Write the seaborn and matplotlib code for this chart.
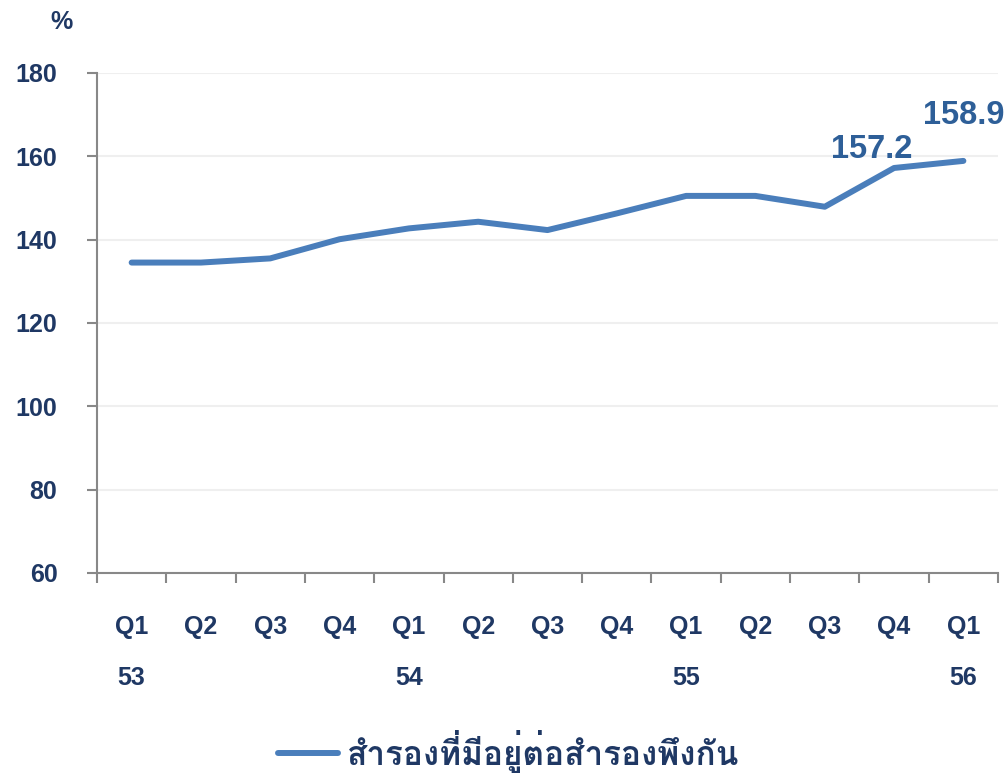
import matplotlib
matplotlib.use("Agg")
import matplotlib.pyplot as plt
import seaborn as sns
import pandas as pd
from matplotlib import font_manager as fm
from matplotlib.ft2font import FT2Font

# data
quarters = ["Q1", "Q2", "Q3", "Q4", "Q1", "Q2", "Q3", "Q4", "Q1", "Q2", "Q3", "Q4", "Q1"]
years = ["53", "", "", "", "54", "", "", "", "55", "", "", "", "56"]
ratio = [134.5, 134.5, 135.5, 140.1, 142.7, 144.3, 142.3, 146.3, 150.5, 150.5, 147.9, 157.2, 158.9]
series_name = "สำรองที่มีอยู่ต่อสำรองพึงกัน"
labelled = {11: "157.2", 12: "158.9"}

navy = "#1F3864"
blue = "#4A7EBB"


def find_thai_font():
    # pick an installed family that actually has Thai glyphs
    found = []
    for f in fm.fontManager.ttflist:
        try:
            if ord("ส") in FT2Font(f.fname).get_charmap():
                found.append(f)
        except Exception:
            pass
    bold = [f for f in found if f.weight in ("bold", 700)]
    if bold:
        return bold[0].name
    if found:
        return found[0].name
    return "DejaVu Sans"


thai = find_thai_font()

sns.set_theme(style="white")
plt.rcParams["font.family"] = ["Liberation Sans", "DejaVu Sans"]

df = pd.DataFrame({"pos": range(len(ratio)), "ratio": ratio})

fig = plt.figure(figsize=(10.07, 7.78), dpi=100)
ax = fig.add_axes([0.0963, 0.2635, 0.8948, 0.6427])

sns.lineplot(data=df, x="pos", y="ratio", ax=ax, color=blue, linewidth=4.3,
             label=series_name, legend=False)

ax.set_ylim(60, 180)
ax.set_yticks(range(60, 181, 20))
ax.set_xlim(-0.5, len(ratio) - 0.5)
ax.yaxis.grid(True, color="#EFEFEF", linewidth=1.5)
ax.set_axisbelow(True)

ax.set_xticks(range(len(ratio)))
ax.set_xticklabels([q + ("\n\n" + y if y else "") for q, y in zip(quarters, years)],
                   linespacing=1.09)
ax.set_xticks([i - 0.5 for i in range(len(ratio) + 1)], minor=True)
ax.tick_params(axis="x", which="major", length=0, pad=30)
ax.tick_params(axis="x", which="minor", length=7.5, width=1.5, color="#888888",
               direction="out", bottom=True)
ax.tick_params(axis="y", length=7.5, width=1.5, color="#888888", direction="out",
               left=True, pad=21)
for lab in ax.get_xticklabels() + ax.get_yticklabels():
    lab.set_fontsize(18)
    lab.set_fontweight("bold")
    lab.set_color(navy)

for side in ["top", "right"]:
    ax.spines[side].set_visible(False)
for side in ["left", "bottom"]:
    ax.spines[side].set_color("#888888")
    ax.spines[side].set_linewidth(1.5)

ax.set_xlabel("")
ax.set_ylabel("")

offsets = {11: (-16, 13), 12: (0, 33)}
for i, txt in labelled.items():
    ax.annotate(txt, (i, ratio[i]), xytext=offsets[i], textcoords="offset points",
                ha="center", va="center", fontsize=23.5, fontweight="bold",
                color="#2E5F98", annotation_clip=False)

fig.text(0.0615, 0.972, "%", ha="center", va="center", fontsize=18,
         fontweight="bold", color=navy)

handles, labels = ax.get_legend_handles_labels()
leg = fig.legend(handles, labels, loc="center", bbox_to_anchor=(0.505, 0.034),
                 frameon=False, handlelength=1.8, handletextpad=0.25,
                 prop={"family": [thai, "DejaVu Sans"], "size": 24, "weight": "bold"})
for t in leg.get_texts():
    t.set_color(navy)

fig.savefig("out.png", dpi=100)
